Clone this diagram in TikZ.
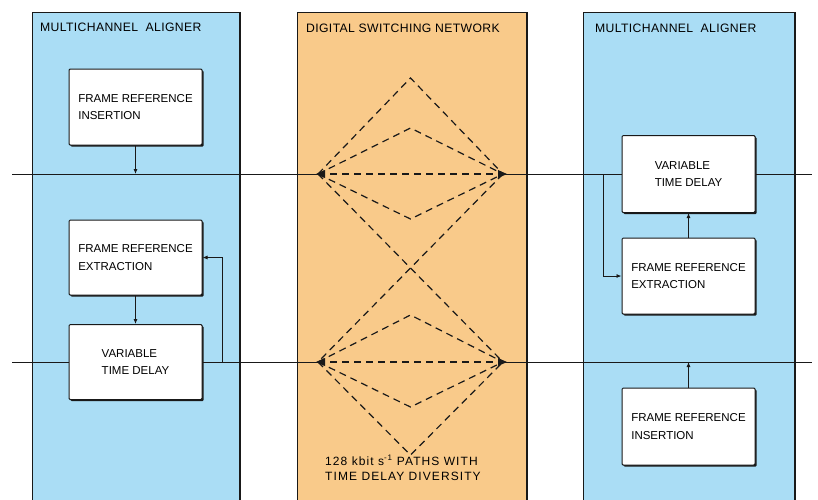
\documentclass[tikz,border=0pt]{standalone}
\usepackage{fontspec}
\setmainfont{Liberation Sans}
\newfontfamily\hdrfont[LetterSpace=3]{Liberation Sans}
\newfontfamily\footfont[LetterSpace=9]{Liberation Sans}
\usetikzlibrary{arrows.meta,shadows}
\definecolor{panelblue}{RGB}{170,221,245}
\definecolor{panelorange}{RGB}{249,202,138}
\definecolor{inkc}{RGB}{25,25,25}
\tikzset{
  panel/.style={draw=inkc, line width=0.8pt},
  paneledge/.style={draw=inkc, line width=2.4pt},
  blockbox/.style={draw=inkc, fill=white, line width=1pt, rounded corners=1.2pt,
    minimum width=133pt, align=left, inner sep=0pt,
    font=\fontsize{11.5}{17.5}\selectfont,
    drop shadow={shadow xshift=1.6pt, shadow yshift=-1.6pt, fill=inkc, opacity=1}},
  hdr/.style={anchor=base west, inner sep=0pt, font=\hdrfont\fontsize{12.2}{14}\selectfont},
  sig/.style={draw=inkc, line width=0.8pt},
  arr/.style={draw=inkc, line width=0.8pt, -{Latex[length=5pt,width=4pt]}},
  path/.style={draw=inkc, line width=1.2pt, dash pattern=on 7pt off 5pt},
}
\begin{document}
\begin{tikzpicture}[x=1pt,y=-1pt]
\useasboundingbox (0,0) rectangle (818,499);
% panels
\fill[panelblue] (32,12) rectangle (240,505);
\draw[panel] (32,505) -- (32,12) -- (240,12);
\draw[paneledge] (240,12) -- (240,505);
\fill[panelorange] (297,12) rectangle (527,505);
\draw[panel] (297,505) -- (297,12) -- (527,12);
\draw[paneledge] (527,12) -- (527,505);
\fill[panelblue] (583,12) rectangle (795,505);
\draw[panel] (583,505) -- (583,12) -- (795,12);
\draw[paneledge] (795,12) -- (795,505);
% headers
\node[hdr] (hL) at (40,31) {MULTICHANNEL\ \ ALIGNER};
\node[hdr] (hM) at (306,32) {DIGITAL SWITCHING NETWORK};
\node[hdr] (hR) at (595,32) {MULTICHANNEL\ \ ALIGNER};
\node[anchor=base west, inner sep=0pt, align=left, font=\footfont\fontsize{12}{15}\selectfont]
  (foot) at (325,480) {128 kbit s\textsuperscript{-1} PATHS WITH\\TIME DELAY DIVERSITY};
% left boxes
\node[blockbox, minimum height=76pt] (lins) at (135.5,107) {FRAME REFERENCE\\INSERTION};
\node[blockbox, minimum height=75pt] (lext) at (135.5,257.5) {FRAME REFERENCE\\EXTRACTION};
\node[blockbox, minimum height=75pt] (ldel) at (135.5,362) {VARIABLE\\TIME DELAY};
% right boxes
\node[blockbox, minimum height=77pt] (rdel) at (688.5,174) {VARIABLE\\TIME DELAY};
\node[blockbox, minimum height=76pt] (rext) at (688.5,276) {FRAME REFERENCE\\EXTRACTION};
\node[blockbox, minimum height=77pt] (rins) at (688.5,426.5) {FRAME REFERENCE\\INSERTION};
% coordinates
\coordinate (A1) at (12,174);
\coordinate (E1) at (812,174);
\coordinate (A2) at (12,362);
\coordinate (E2) at (812,362);
\coordinate (L1) at (318,174);
\coordinate (R1) at (503,174);
\coordinate (L2) at (318,362);
\coordinate (R2) at (503,362);
\coordinate (T1) at (410.5,78);
\coordinate (U1) at (410.5,128);
\coordinate (D1) at (410.5,219);
\coordinate (U2) at (410.5,315);
\coordinate (D2) at (410.5,407);
\coordinate (B2) at (410.5,455);
\coordinate (fbL) at (222,362);
\coordinate (fbR) at (603,174);
% main signal lines
\draw[sig] (A1) -- (L1);
\draw[sig] (R1) -- (rdel.west);
\draw[sig] (rdel.east) -- (E1);
\draw[sig] (A2) -- (ldel.west);
\draw[sig] (ldel.east) -- (L2);
\draw[sig] (R2) -- (E2);
% switching paths
\draw[path] (L1) -- (T1) -- (R1);
\draw[path] (L1) -- (U1) -- (R1);
\draw[path] (L1) -- (R1);
\draw[path] (L1) -- (D1) -- (R1);
\draw[path] (L1) -- (R2);
\draw[path] (R1) -- (L2);
\draw[path] (L2) -- (U2) -- (R2);
\draw[path] (L2) -- (R2);
\draw[path] (L2) -- (D2) -- (R2);
\draw[path] (L2) -- (B2) -- (R2);
% apex arrowheads
\fill[inkc] (L1) ++(-2,0) -- ++(9,-4) -- ++(0,8) -- cycle;
\fill[inkc] (R1) ++(4,0) -- ++(-9,-4) -- ++(0,8) -- cycle;
\fill[inkc] (L2) ++(-2,0) -- ++(9,-4) -- ++(0,8) -- cycle;
\fill[inkc] (R2) ++(4,0) -- ++(-9,-4) -- ++(0,8) -- cycle;
% left aligner connectors
\draw[arr] (lins.south) -- (lins.south |- A1);
\draw[arr] (lext.south) -- (ldel.north);
\draw[arr] (fbL) |- (lext.east);
% right aligner connectors
\draw[arr] (rext.north) -- (rdel.south);
\draw[arr] (rins.north) -- (rins.north |- A2);
\draw[arr] (fbR) |- (rext.west);
\end{tikzpicture}
\end{document}
